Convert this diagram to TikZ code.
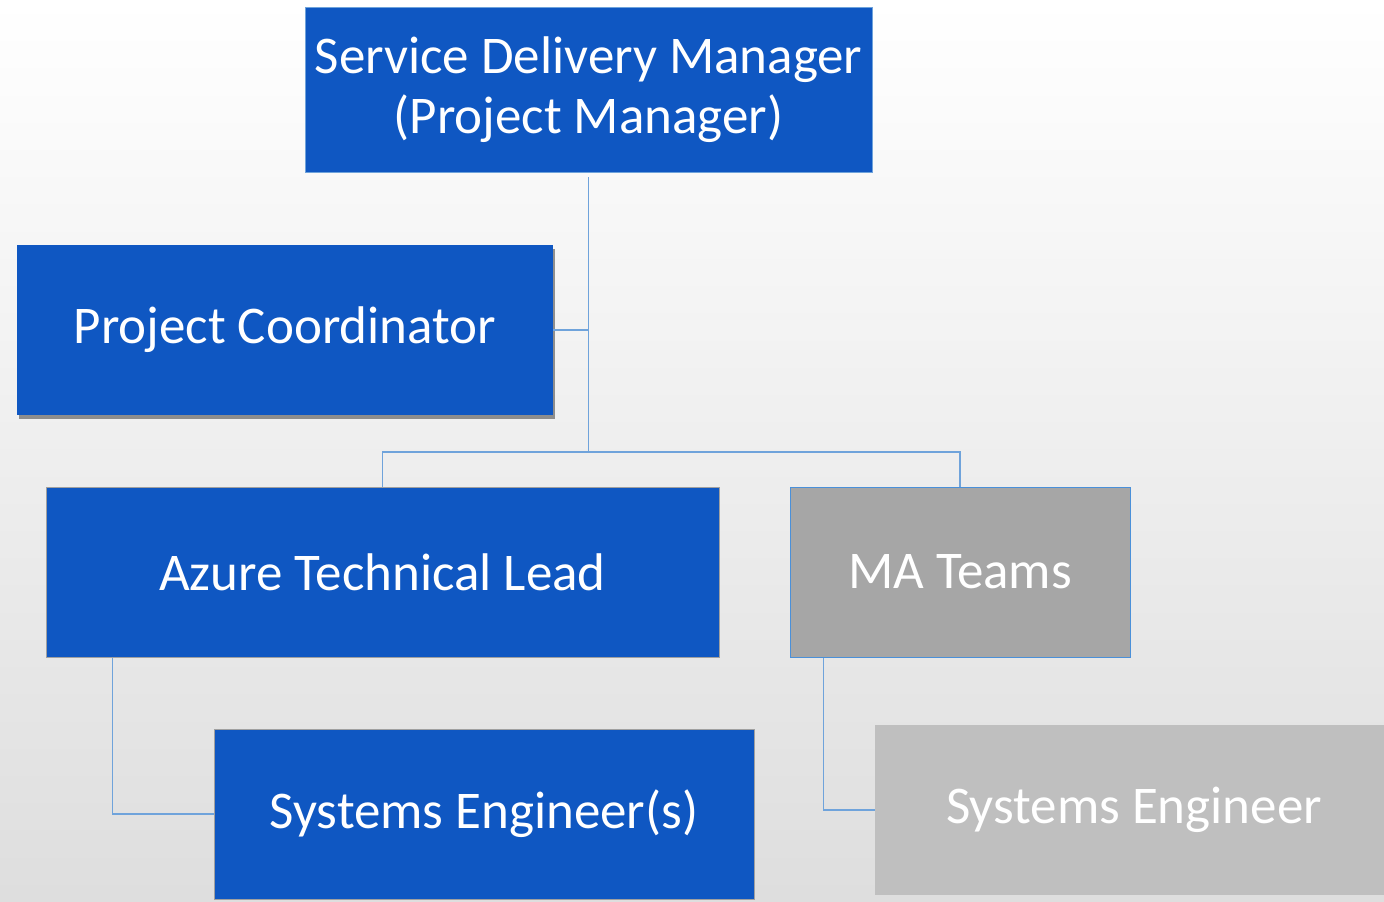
\documentclass[tikz,border=0pt]{standalone}
\usepackage{fontspec}
\setmainfont{Carlito}
\usetikzlibrary{shadows}
\definecolor{boxblue}{RGB}{15,87,194}
\definecolor{linkblue}{RGB}{111,163,219}
\definecolor{edgeblue}{RGB}{74,144,217}
\definecolor{darkgrey}{RGB}{166,166,166}
\definecolor{lightgrey}{RGB}{191,191,191}
\definecolor{rimgrey}{RGB}{160,160,160}
\begin{document}
\begin{tikzpicture}[x=1pt, y=-1pt,
        role/.style={rectangle, inner sep=0pt, align=center, text=white,
            font=\fontsize{53}{60}\selectfont, minimum height=170pt},
        conn/.style={linkblue, line width=1.4pt}]
        % Sfondo sfumato
        \useasboundingbox (0,0) rectangle (1384,902);
        \shade[top color=white, bottom color=black!13] (0,0) rectangle (1384,902);
        
        % Ruoli (blu = interni, grigi = esterni)
        \node[role, fill=boxblue, draw=linkblue, line width=0.8pt, minimum width=567pt, minimum height=165pt] (sdm) at (588.5, 89.5) {Service Delivery Manager\\(Project Manager)};
        \node[role, fill=boxblue, minimum width=536pt, drop shadow={shadow xshift=2pt, shadow yshift=-4pt, opacity=.6, fill=black!70}] (pc) at (285, 330) {Project Coordinator};
        \node[role, fill=boxblue, draw=rimgrey, line width=1pt, minimum width=673pt] (atl) at (382.5, 572) {Azure Technical Lead};
        \node[role, fill=darkgrey, draw=edgeblue, line width=1pt, minimum width=340pt] (ma) at (960, 572) {MA Teams};
        \node[role, fill=boxblue, draw=rimgrey, line width=1pt, minimum width=540pt] (ses) at (484, 814) {Systems Engineer(s)};
        \node[role, fill=lightgrey, minimum width=518pt] (se) at (1134, 810) {Systems Engineer};
        
        % Collegamenti
        \coordinate (hub) at (588.5, 452);
        \draw[conn] ([yshift=-5pt]sdm.south) -- (hub);
        \draw[conn] (pc.east) -- (pc.east -| hub);
        \draw[conn] (atl.north) |- (hub) -| (ma.north);
        \draw[conn] ([xshift=67pt]atl.south west) |- (ses.west);
        \draw[conn] ([xshift=34pt]ma.south west) |- (se.west);
        
    \end{tikzpicture}
\end{document}
